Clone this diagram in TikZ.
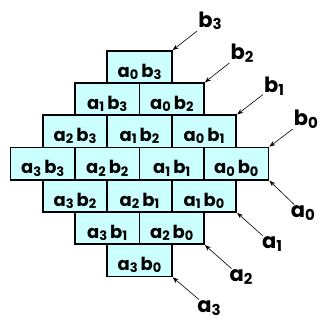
\documentclass[tikz,border=0pt]{standalone}
\usepackage{fontspec}
\setmainfont{Poppins}
\usetikzlibrary{arrows.meta}
\newcommand{\csub}[1]{\raisebox{-2.2pt}{\fontsize{13}{13}\selectfont #1}}
\newcommand{\ssub}[1]{\raisebox{-2.5pt}{\fontsize{15}{15}\selectfont #1}}
\definecolor{cellfill}{HTML}{CCFFFF}
\tikzset{
  cell/.style={draw=black, line width=1.8pt, fill=cellfill, minimum width=64.5pt, minimum height=32.2pt, inner sep=0pt, font=\fontsize{18}{18}\selectfont\bfseries, text depth=0pt},
  lab/.style={inner sep=1pt, font=\fontsize{21}{21}\selectfont\bfseries},
  arr/.style={-{Stealth[length=6pt,width=4.5pt]}, line width=0.6pt}
}
\begin{document}
\begin{tikzpicture}[x=1pt,y=-1pt]
\useasboundingbox (0,0) rectangle (320,320);
\foreach \i in {0,...,3}{
  \foreach \j in {0,...,3}{
    \pgfmathsetmacro{\cx}{139.5+32.25*((3-\j)-\i)}
    \pgfmathsetmacro{\cy}{67.1+32.2*(\i+3-\j)}
    \node[cell] (a\i b\j) at (\cx,\cy) {\raisebox{-7pt}{a\csub{\i}\,b\csub{\j}}};
  }
}
\foreach \j/\lx/\ly in {3/210/21, 2/242/53, 1/274/86, 0/306/119}{
  \node[lab] (lb\j) at (\lx,\ly) {b\ssub{\j}};
  \draw[arr] (lb\j) -- (a0b\j.north east);
}
\foreach \i/\lx/\ly in {0/303/213, 1/272/244, 2/241/277, 3/209/308}{
  \node[lab] (la\i) at (\lx,\ly) {a\ssub{\i}};
  \draw[arr] (la\i) -- (a\i b0.south east);
}
\end{tikzpicture}
\end{document}
